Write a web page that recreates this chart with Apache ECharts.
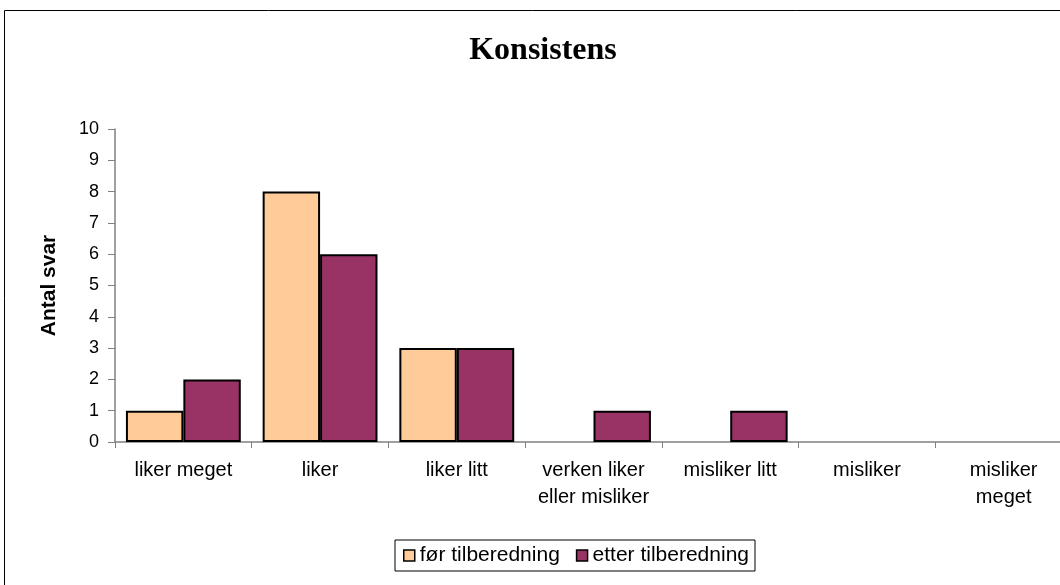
<!DOCTYPE html>
<html>
<head>
<meta charset="utf-8">
<script src="https://cdn.jsdelivr.net/npm/echarts@6/dist/echarts.min.js"></script>
<style>
  html, body { margin: 0; padding: 0; background: #fff; }
  #chart { width: 1060px; height: 585px; }
</style>
</head>
<body>
<div id="chart"></div>
<script>
// data
var categories = ['liker meget', 'liker', 'liker litt', 'verken liker\neller misliker', 'misliker litt', 'misliker', 'misliker\nmeget']
var forValues = [1, 8, 3, 0, 0, 0, 0]
var etterValues = [2, 6, 3, 1, 1, 0, 0]
var seriesNames = ['før tilberedning', 'etter tilberedning']

// zero answers show no bar in the original
function noZero (arr) {
  return arr.map(function (v) { return v === 0 ? '-' : v })
}

var chart = echarts.init(document.getElementById('chart'))
var option = {
  animation: false,
  title: {
    text: 'Konsistens',
    left: 538,
    top: 30,
    textAlign: 'center',
    textStyle: { fontFamily: 'Liberation Serif', fontWeight: 'bold', fontSize: 32, color: '#000' }
  },
  // outer chart border
  graphic: [{
    type: 'rect',
    shape: { x: 4.5, y: 10.5, width: 1200, height: 700 },
    style: { fill: 'none', stroke: '#000', lineWidth: 1 },
    silent: true
  }],
  legend: {
    left: 395,
    top: 540,
    icon: 'rect',
    itemWidth: 11,
    itemHeight: 11,
    itemGap: 16,
    padding: [5, 6, 5, 8],
    borderColor: '#000',
    borderWidth: 1,
    data: seriesNames,
    textStyle: { fontFamily: 'Liberation Sans', fontSize: 21, color: '#000', padding: [0, 0, 0, 0] },
    itemStyle: { borderColor: '#000', borderWidth: 1.5 }
  },
  grid: { left: 115, top: 129, width: 957, height: 313, outerBoundsMode: 'none' },
  xAxis: {
    type: 'category',
    data: categories,
    axisLine: { lineStyle: { color: '#808080', width: 1.5 } },
    axisTick: { show: true, length: 6, lineStyle: { color: '#808080' } },
    axisLabel: {
      interval: 0,
      margin: 15,
      fontFamily: 'Liberation Sans',
      fontSize: 20,
      lineHeight: 27,
      color: '#000'
    }
  },
  yAxis: {
    type: 'value',
    min: 0,
    max: 10,
    interval: 1,
    name: 'Antal svar',
    nameLocation: 'middle',
    nameGap: 55,
    nameTextStyle: { fontFamily: 'Liberation Sans', fontWeight: 'bold', fontSize: 21, color: '#000' },
    axisLine: { show: true, lineStyle: { color: '#808080', width: 1.5 } },
    axisTick: { show: true, length: 7, lineStyle: { color: '#808080' } },
    splitLine: { show: false },
    axisLabel: { margin: 16, fontFamily: 'Liberation Sans', fontSize: 18, color: '#000' }
  },
  series: [
    {
      name: seriesNames[0],
      type: 'bar',
      data: noZero(forValues),
      barGap: '0%',
      barCategoryGap: '16%',
      itemStyle: { color: '#FFCC99', borderColor: '#000', borderWidth: 2 }
    },
    {
      name: seriesNames[1],
      type: 'bar',
      data: noZero(etterValues),
      barGap: '0%',
      barCategoryGap: '16%',
      itemStyle: { color: '#993366', borderColor: '#000', borderWidth: 2 }
    }
  ]
}
chart.setOption(option)
</script>
</body>
</html>
